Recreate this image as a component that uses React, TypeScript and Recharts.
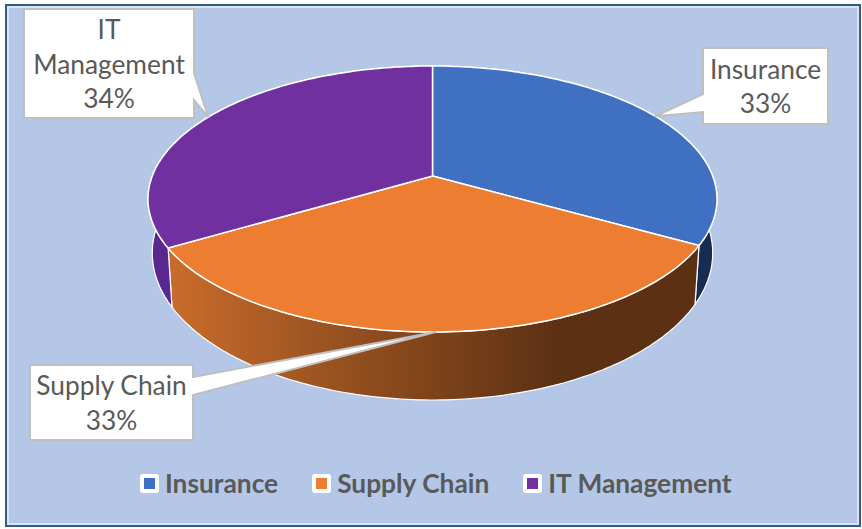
import { PieChart, Pie, Legend } from 'recharts';

const SEGMENTS = ['Insurance', 'Supply Chain', 'IT Management'];
const SHARES = [33.2, 33.3, 33.5];
const TOP_COLORS = ['#4070c2', '#ed7d31', '#7030a0'];
const WALL_COLORS = ['#162c52', 'url(#supplyWall)', '#5a2690'];
const LABEL_LINES = [['Insurance'], ['Supply Chain'], ['IT', 'Management']];

const pieData = SEGMENTS.map((name, i) => ({ name, value: SHARES[i], fill: TOP_COLORS[i] }));

// callout boxes sit where the original put them
const CALLOUTS = [
  { x: 703, y: 48, w: 125, h: 76, baseX: 703, baseA: 94, baseB: 112 },
  { x: 30, y: 365, w: 163, h: 75, baseX: 193, baseA: 377, baseB: 395 },
  { x: 24, y: 9, w: 170, h: 109, baseX: 194, baseA: 73, baseB: 100 },
];

const FONT = 'Lato, Carlito, sans-serif';
const TEXT = '#595959';

// the picture is drawn in perspective: the apex is above the ellipse centre
const X_STRETCH = 2.139;
const SKEW = 0.087;
const BASE_X = 0.985;
const BASE_Y = 1.105;
const BASE_DROP = 54;

function toEllipse(clock: number) {
  const half = (clock * Math.PI) / 360;
  return 2 * Math.atan2(((1 - SKEW) / (1 + SKEW)) * Math.sin(half), Math.cos(half));
}

function rimPoint(cx: number, cy: number, r: number, clock: number, base = false) {
  const t = toEllipse(clock);
  const rx = r * X_STRETCH * (base ? BASE_X : 1);
  const ry = r * (base ? BASE_Y : 1);
  return [cx + rx * Math.sin(t), cy + (base ? BASE_DROP : 0) - ry * Math.cos(t)];
}

function arc(cx: number, cy: number, r: number, from: number, to: number, base = false) {
  const pts = [];
  const n = Math.max(2, Math.ceil(Math.abs(to - from)));
  for (let i = 0; i <= n; i++) pts.push(rimPoint(cx, cy, r, from + ((to - from) * i) / n, base));
  return pts;
}

const toPath = (pts: number[][]) =>
  pts.map((p, i) => `${i ? 'L' : 'M'}${p[0].toFixed(1)} ${p[1].toFixed(1)}`).join(' ') + ' Z';

function TopSlice(props: any) {
  const { cx, cy, outerRadius, startAngle, endAngle, fill } = props;
  const apex = [cx, cy - (outerRadius * 2 * SKEW) / (1 + SKEW * SKEW)];
  const pts = [apex, ...arc(cx, cy, outerRadius, 90 - startAngle, 90 - endAngle)];
  return <path d={toPath(pts)} fill={fill} stroke="#ffffff" strokeWidth={1.5} strokeLinejoin="round" />;
}

function WallSlice(props: any) {
  const { cx, cy, outerRadius, startAngle, endAngle, index } = props;
  const from = 90 - startAngle;
  const to = 90 - endAngle;
  const pts = [...arc(cx, cy, outerRadius, from, to), ...arc(cx, cy, outerRadius, to, from, true)];
  return <path d={toPath(pts)} fill={WALL_COLORS[index]} stroke="#ffffff" strokeWidth={1.2} strokeLinejoin="round" />;
}

function Callout(props: any) {
  const { cx, cy, outerRadius, midAngle, percent, index } = props;
  const box = CALLOUTS[index];
  const tip = rimPoint(cx, cy, outerRadius, 90 - midAngle);
  const right = box.x + box.w;
  const bottom = box.y + box.h;
  const outline = box.baseX === box.x
    ? `M${box.x} ${box.y} H${right} V${bottom} H${box.x} V${box.baseB} L${tip[0]} ${tip[1]} L${box.x} ${box.baseA} Z`
    : `M${box.x} ${box.y} H${right} V${box.baseA} L${tip[0]} ${tip[1]} L${right} ${box.baseB} V${bottom} H${box.x} Z`;
  const lines = [...LABEL_LINES[index], `${(percent * 100).toFixed(0)}%`];
  const first = box.y + box.h / 2 - ((lines.length - 1) * 34.5) / 2 + 10;
  return (
    <g>
      <path d={outline} fill="#ffffff" stroke="#bfbfbf" strokeWidth={2} />
      <text textAnchor="middle" fontFamily={FONT} fontSize={26.3} fill={TEXT}>
        {lines.map((line, i) => (
          <tspan key={line} x={box.x + box.w / 2} y={first + i * 34.5}>{line}</tspan>
        ))}
      </text>
    </g>
  );
}

function LegendRow({ payload }: any) {
  const items = SEGMENTS.map((name) => (payload || []).find((p: any) => p.value === name)).filter(Boolean);
  return (
    <div style={{ display: 'flex', gap: 34, alignItems: 'center', fontFamily: FONT, fontSize: 26.3, fontWeight: 700, color: TEXT, lineHeight: '30px', whiteSpace: 'nowrap' }}>
      {items.map((item: any) => (
        <div key={item.value} style={{ display: 'flex', alignItems: 'center', gap: 6 }}>
          <span style={{ width: 11, height: 11, border: '4px solid #fff', borderRadius: 3, background: item.color, display: 'block' }} />
          <span>{item.value}</span>
        </div>
      ))}
    </div>
  );
}

export default function App() {
  return (
    <div style={{ position: 'fixed', left: 0, top: 0, width: 862, height: 529, background: '#ffffff' }}>
      <div style={{ position: 'absolute', left: 5, top: 4, width: 852, height: 519, background: '#b4c7e7', border: '2px solid #2f5d86', boxShadow: 'inset 0 0 0 2px #dde4f0' }} />
      <div style={{ position: 'absolute', left: 0, top: 0 }}>
        <PieChart width={862} height={529} margin={{ top: 0, right: 0, bottom: 0, left: 0 }}>
          <defs>
            <linearGradient id="supplyWall" gradientUnits="userSpaceOnUse" x1={170} y1={0} x2={560} y2={0}>
              <stop offset="0%" stopColor="#c96c2b" />
              <stop offset="45%" stopColor="#95501f" />
              <stop offset="100%" stopColor="#5c3013" />
            </linearGradient>
          </defs>
          <Pie
            data={pieData}
            dataKey="value"
            nameKey="name"
            cx={432.5}
            cy={199}
            outerRadius={133}
            startAngle={90}
            endAngle={-270}
            legendType="none"
            shape={WallSlice}
            isAnimationActive={false}
          />
          <Pie
            data={pieData}
            dataKey="value"
            nameKey="name"
            cx={432.5}
            cy={199}
            outerRadius={133}
            startAngle={90}
            endAngle={-270}
            legendType="square"
            shape={TopSlice}
            label={Callout}
            labelLine={false}
            isAnimationActive={false}
          />
          <Legend content={LegendRow} itemSorter={null} wrapperStyle={{ left: 140, top: 468, width: 'auto', bottom: 'auto' }} />
        </PieChart>
      </div>
    </div>
  );
}
